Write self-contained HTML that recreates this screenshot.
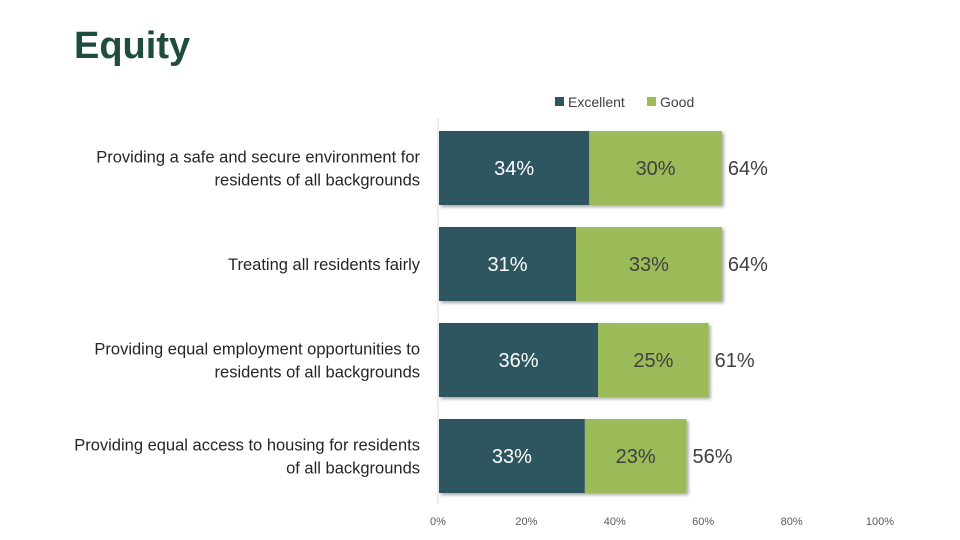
<!DOCTYPE html>
<html><head><meta charset="utf-8"><style>
body{margin:0;width:960px;height:540px;background:#fff;overflow:hidden;font-family:"Liberation Sans",sans-serif}
svg{position:absolute;left:0;top:0}
</style></head><body>
<svg id="c" width="960" height="540">
<defs><filter id="sh" x="-5%" y="-5%" width="115%" height="125%"><feDropShadow dx="2" dy="2" stdDeviation="1.5" flood-color="#000" flood-opacity="0.35"/></filter></defs>
<text x="74" y="58" font-size="38" font-weight="bold" fill="#1e4d3f">Equity</text>
<g>
<rect x="555" y="97" width="9" height="9" fill="#2f5660"/>
<text x="568" y="107" font-size="14" fill="#404040">Excellent</text>
<rect x="647" y="97" width="9" height="9" fill="#9bbb59"/>
<text x="660" y="107" font-size="14" fill="#404040">Good</text>
</g>
<line x1="438" y1="118" x2="438" y2="504" stroke="#d9d9d9"/>
<g id="bars"></g>
</svg>
<script>
const categories=[["Providing a safe and secure environment for","residents of all backgrounds"],["Treating all residents fairly"],["Providing equal employment opportunities to","residents of all backgrounds"],["Providing equal access to housing for residents","of all backgrounds"]];
const excellent=[34,31,36,33];
const good=[30,33,25,23];
const totals=[64,64,61,56];
const ticks=[0,20,40,60,80,100];
const NS="http://www.w3.org/2000/svg";
const g=document.getElementById('bars');
const x=v=>438+v*4.42;
const yTop=i=>131+i*96;
const BH=74;
function mk(t,a,p){const e=document.createElementNS(NS,t);for(const k in a)e.setAttribute(k,a[k]);(p||g).appendChild(e);return e;}
categories.forEach((lines,i)=>{
  const y=yTop(i);
  const grp=mk('g',{filter:'url(#sh)'});
  
  
  const r1=mk('rect',{x:x(0)+1,y:y,width:x(excellent[i])-x(0),height:BH,fill:'#2f5660'},grp);
  
  
  const r2=mk('rect',{x:x(excellent[i])+1,y:y,width:x(excellent[i]+good[i])-x(excellent[i]),height:BH,fill:'#9bbb59'},grp);
  
  
  const cy=y+BH/2+7;
  const t1=mk('text',{x:(x(0)+x(excellent[i]))/2+1,y:cy,'font-size':20,fill:'#fff','text-anchor':'middle'});t1.textContent=excellent[i]+'%';
  
  
  const t2=mk('text',{x:(x(excellent[i])+x(excellent[i]+good[i]))/2+1,y:cy,'font-size':20,fill:'#404040','text-anchor':'middle'});t2.textContent=good[i]+'%';
  
  
  const t3=mk('text',{x:x(totals[i])+7,y:cy,'font-size':20,fill:'#404040'});t3.textContent=totals[i]+'%';
  
  
  const lab=mk('text',{x:420,'font-size':16.5,fill:'#262626','text-anchor':'end'});
  
  
  const n=lines.length;
  lines.forEach((s,j)=>{const ts=mk('tspan',{x:420,y:y+BH/2+6+(j-(n-1)/2)*23},lab);ts.textContent=s;});
});
ticks.forEach(v=>{
  const t=mk('text',{x:x(v),y:525,'font-size':11,fill:'#595959','text-anchor':'middle'});t.textContent=v+'%';
  
  
});
</script>
</body></html>
